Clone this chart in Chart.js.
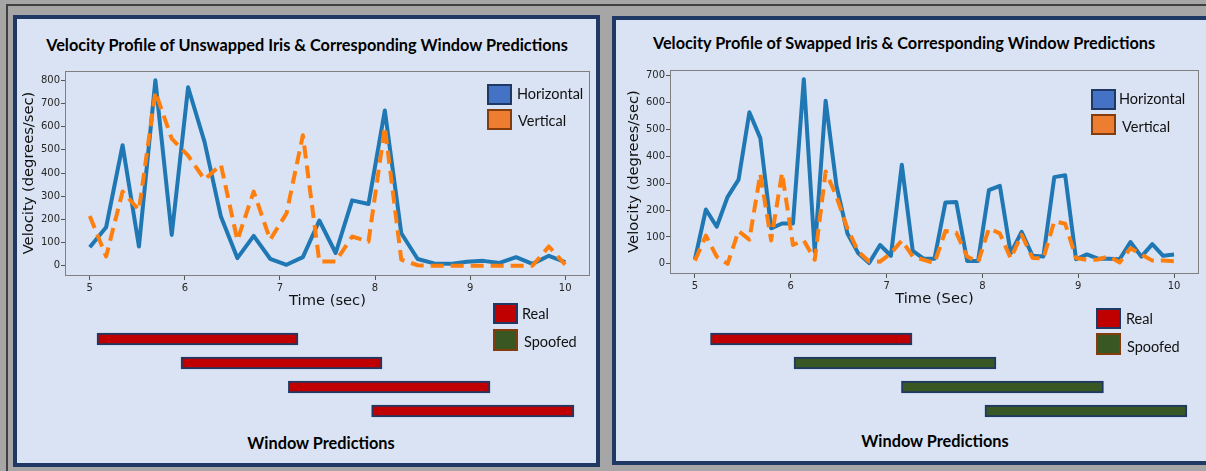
<!DOCTYPE html>
<html>
<head>
<meta charset="utf-8">
<script src="https://cdn.jsdelivr.net/npm/chart.js@4.4.0/dist/chart.umd.min.js"></script>
<style>
  body { margin: 0; width: 1206px; height: 471px; overflow: hidden; background: #a6a6a6; position: relative; font-family: Lato, "Open Sans", sans-serif; }
  .edge { position: absolute; left: 6px; top: 4px; width: 1300px; height: 500px; border-top: 2px solid #404040; border-left: 2px solid #404040; }
  .panel { position: absolute; background: #dae3f3; border: 4px solid #1f3864; box-sizing: border-box; }
  .title { position: absolute; font-weight: bold; font-size: 16.3px; line-height: 1; white-space: nowrap; transform: translate(-50%, -50%); color: #000; }
  .swatch { position: absolute; box-sizing: border-box; border: 2px solid #1f3864; }
  .label { position: absolute; font-size: 14.5px; line-height: 1; white-space: nowrap; transform: translateY(-50%); color: #111; }
  canvas { position: absolute; }
</style>
</head>
<body>
<div class="edge"></div>

<div class="panel" style="left:13px; top:15px; width:587px; height:452px;"></div>
<div class="panel" style="left:612px; top:16px; width:620px; height:449px;"></div>

<div class="title" style="left:307px; top:45px;">Velocity Profile of Unswapped Iris &amp; Corresponding Window Predictions</div>
<div class="title" style="left:904px; top:43px;">Velocity Profile of Swapped Iris &amp; Corresponding Window Predictions</div>

<canvas id="leftVelocity" width="580" height="260" style="left:17px; top:60px;"></canvas>
<canvas id="rightVelocity" width="590" height="262" style="left:616px; top:58px;"></canvas>
<canvas id="leftWindows" width="580" height="96" style="left:17px; top:327px;"></canvas>
<canvas id="rightWindows" width="590" height="96" style="left:616px; top:327px;"></canvas>

<!-- legends -->
<div class="swatch" style="left:487px; top:84px; width:25px; height:21px; background:#4472c4;"></div>
<div class="label" style="left:517px; top:94px;">Horizontal</div>
<div class="swatch" style="left:487px; top:109px; width:25px; height:21px; background:#ed7d31; border-color:#843c0c;"></div>
<div class="label" style="left:518px; top:121px;">Vertical</div>

<div class="swatch" style="left:1091px; top:89px; width:25px; height:21px; background:#4472c4;"></div>
<div class="label" style="left:1119px; top:99px;">Horizontal</div>
<div class="swatch" style="left:1091px; top:114px; width:25px; height:21px; background:#ed7d31; border-color:#843c0c;"></div>
<div class="label" style="left:1122px; top:127px;">Vertical</div>

<div class="swatch" style="left:493px; top:303px; width:25px; height:21px; background:#c00000;"></div>
<div class="label" style="left:522px; top:314px;">Real</div>
<div class="swatch" style="left:493px; top:329px; width:25px; height:22px; background:#385723; border-color:#843c0c;"></div>
<div class="label" style="left:524px; top:342px;">Spoofed</div>

<div class="swatch" style="left:1096px; top:308px; width:25px; height:21px; background:#c00000;"></div>
<div class="label" style="left:1126px; top:319px;">Real</div>
<div class="swatch" style="left:1096px; top:333px; width:25px; height:22px; background:#385723; border-color:#843c0c;"></div>
<div class="label" style="left:1127px; top:347px;">Spoofed</div>

<div class="title" style="left:321px; top:443px;">Window Predictions</div>
<div class="title" style="left:935px; top:441px;">Window Predictions</div>

<script>
// unswapped iris, 30 samples
const leftTimes = [5.000, 5.172, 5.345, 5.517, 5.690, 5.862, 6.034, 6.207, 6.379, 6.552,
                   6.724, 6.897, 7.069, 7.241, 7.414, 7.586, 7.759, 7.931, 8.103, 8.276,
                   8.448, 8.621, 8.793, 8.966, 9.138, 9.310, 9.483, 9.655, 9.828, 10.000];
const leftHorizontal = [80, 166, 520, 83, 800, 133, 770, 534, 212, 33,
                        129, 30, 4, 37, 195, 55, 282, 266, 670, 140,
                        29, 10, 8, 17, 21, 12, 37, 8, 43, 16];
const leftVertical = [215, 40, 320, 240, 750, 548, 475, 372, 436, 110,
                      320, 112, 226, 563, 18, 18, 126, 104, 598, 26,
                      2, 0, 0, 0, 0, 0, 0, 0, 83, 5];

// swapped iris, 45 samples
const rightTimes = [5.000, 5.114, 5.227, 5.341, 5.455, 5.568, 5.682, 5.795, 5.909, 6.023,
                    6.136, 6.250, 6.364, 6.477, 6.591, 6.705, 6.818, 6.932, 7.045, 7.159,
                    7.273, 7.386, 7.500, 7.614, 7.727, 7.841, 7.955, 8.068, 8.182, 8.295,
                    8.409, 8.523, 8.636, 8.750, 8.864, 8.977, 9.091, 9.205, 9.318, 9.432,
                    9.545, 9.659, 9.773, 9.886, 10.000];
const rightHorizontal = [17, 202, 138, 249, 313, 563, 467, 132, 150, 150,
                         686, 45, 606, 290, 113, 39, 3, 70, 30, 368,
                         48, 19, 19, 228, 230, 11, 11, 274, 290, 40,
                         119, 30, 27, 322, 329, 17, 35, 19, 19, 17,
                         81, 27, 73, 30, 35];
const rightVertical = [12, 105, 27, 0, 122, 90, 334, 87, 338, 70,
                       87, 15, 343, 250, 132, 45, 9, 8, 39, 87,
                       27, 15, 3, 122, 116, 27, 6, 132, 113, 20,
                       108, 22, 20, 158, 149, 22, 15, 16, 28, 5,
                       58, 35, 12, 12, 10];

const timeTicks = [5, 6, 7, 8, 9, 10];
const leftVelocityTicks = [0, 100, 200, 300, 400, 500, 600, 700, 800];
const rightVelocityTicks = [0, 100, 200, 300, 400, 500, 600, 700];

// prediction windows (start, end in sec)
const windowNames = ["Window 1", "Window 2", "Window 3", "Window 4"];
const leftWindows = [[5.087, 7.197], [5.969, 8.079], [7.096, 9.213], [7.970, 10.094]];
const rightWindows = [[5.172, 7.274], [6.043, 8.150], [7.164, 9.271], [8.035, 10.142]];
const leftPredictions = ["Real", "Real", "Real", "Real"];
const rightPredictions = ["Real", "Spoofed", "Spoofed", "Spoofed"];
const predictionColors = { Real: "#c00000", Spoofed: "#385723" };

const toPoints = (times, values) => times.map((t, i) => ({ x: t, y: values[i] }));

// matplotlib style box around the plot area
const framePlugin = {
    id: "frame",
    afterDatasetsDraw(chart) {
        const { ctx, chartArea } = chart;
        ctx.save();
        ctx.strokeStyle = "#7f7f7f";
        ctx.lineWidth = 1;
        ctx.strokeRect(chartArea.left - 0.5, chartArea.top + 0.5, chartArea.width + 1, chartArea.height);
        ctx.restore();
    }
};

const tickFont = { family: "DejaVu Sans", size: 10 };
const titleFont = { family: "DejaVu Sans", size: 14.7 };

const createVelocityChart = (id, times, horizontal, vertical, yTicks, yMin, yMax, box) => {
    return new Chart(document.getElementById(id), {
        type: "line",
        data: {
            datasets: [{
                label: "Horizontal",
                data: toPoints(times, horizontal),
                borderColor: "#1f77b4",
                borderWidth: 4,
                pointRadius: 0,
                tension: 0,
                borderJoinStyle: "round",
                order: 1
            }, {
                label: "Vertical",
                data: toPoints(times, vertical),
                borderColor: "#ff7f0e",
                borderWidth: 4,
                borderDash: [13, 7],
                pointRadius: 0,
                tension: 0,
                borderJoinStyle: "round",
                order: 0
            }]
        },
        options: {
            responsive: false,
            animation: false,
            events: [],
            layout: { padding: { top: box.padTop, right: box.padRight, left: 0, bottom: 0 } },
            plugins: { legend: { display: false }, tooltip: { enabled: false } },
            scales: {
                x: {
                    type: "linear",
                    min: 4.75,
                    max: 10.25,
                    afterBuildTicks: s => { s.ticks = timeTicks.map(v => ({ value: v })); },
                    afterFit: s => { s.height = box.xHeight; },
                    grid: { drawOnChartArea: false, color: "#555", tickLength: 5 },
                    border: { display: false },
                    ticks: { font: tickFont, color: "#262626", padding: 2, maxRotation: 0 },
                    title: { display: true, text: box.xTitle, font: titleFont, color: "#111", padding: { top: 0, bottom: box.xTitlePad } }
                },
                y: {
                    min: yMin,
                    max: yMax,
                    afterBuildTicks: s => { s.ticks = yTicks.map(v => ({ value: v })); },
                    afterFit: s => { s.width = box.yWidth; },
                    grid: { drawOnChartArea: false, color: "#555", tickLength: 5 },
                    border: { display: false },
                    ticks: { font: tickFont, color: "#262626", padding: 1 },
                    title: { display: true, text: "Velocity (degrees/sec)", font: titleFont, color: "#111", padding: { top: box.yTitlePad, bottom: 0 } }
                }
            }
        },
        plugins: [framePlugin]
    });
};

const createWindowChart = (id, windows, predictions, xMin, xMax) => {
    return new Chart(document.getElementById(id), {
        type: "bar",
        data: {
            labels: windowNames,
            datasets: [{
                data: windows,
                backgroundColor: predictions.map(p => predictionColors[p]),
                borderColor: "#1f3864",
                borderWidth: 2,
                borderSkipped: false,
                barThickness: 12
            }]
        },
        options: {
            indexAxis: "y",
            responsive: false,
            animation: false,
            events: [],
            layout: { padding: 0 },
            plugins: { legend: { display: false }, tooltip: { enabled: false } },
            scales: {
                x: { type: "linear", min: xMin, max: xMax, display: false },
                y: { display: false }
            }
        }
    });
};

createVelocityChart("leftVelocity", leftTimes, leftHorizontal, leftVertical, leftVelocityTicks, -40, 840,
    { padTop: 11, padRight: 8, yWidth: 49, xHeight: 45, xTitle: "Time (sec)", xTitlePad: 10, yTitlePad: 3 });
createVelocityChart("rightVelocity", rightTimes, rightHorizontal, rightVertical, rightVelocityTicks, -34, 720,
    { padTop: 12, padRight: 8, yWidth: 55, xHeight: 47, xTitle: "Time (Sec)", xTitlePad: 12, yTitlePad: 9 });

createWindowChart("leftWindows", leftWindows, leftPredictions, 4.247, 10.336);
createWindowChart("rightWindows", rightWindows, rightPredictions, 4.186, 10.341);
</script>
</body>
</html>
